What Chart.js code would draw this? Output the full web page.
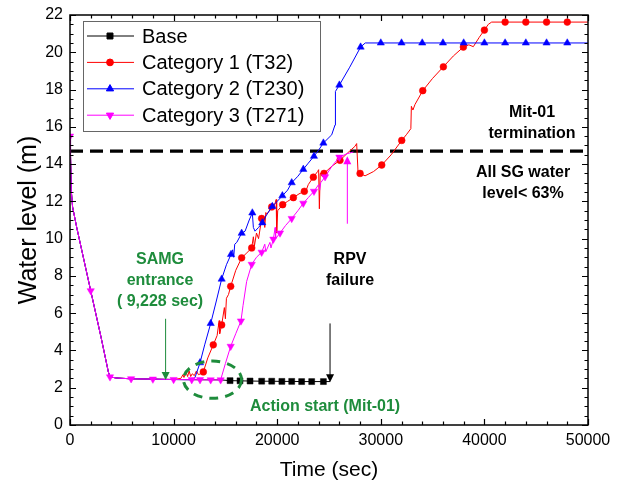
<!DOCTYPE html>
<html><head><meta charset="utf-8">
<script src="https://cdn.jsdelivr.net/npm/chart.js@4/dist/chart.umd.min.js"></script>
<style>html,body{margin:0;padding:0;background:#fff}canvas{display:block}</style>
</head><body>
<canvas id="c" width="626" height="489"></canvas>
<script>
// ---------- DATA ----------
const seriesNames = ['Base', 'Category 1 (T32)', 'Category 2 (T230)', 'Category 3 (T271)'];
const xTickValues = [0, 10000, 20000, 30000, 40000, 50000];
const yTickValues = [0, 2, 4, 6, 8, 10, 12, 14, 16, 18, 20, 22];

// shared early part (all cases identical)
const commonX = [0, 50, 120, 250, 650, 2000, 3000, 3700, 3860, 4500, 5900, 8000, 10000, 11750];
const commonY = [15.5, 14.5, 12.6, 11.7, 10.6, 7.2, 4.7, 2.85, 2.58, 2.52, 2.48, 2.46, 2.44, 2.43];

const baseX = [14540, 15450, 16410, 17380, 18500, 19470, 20450, 21400, 22360, 23330, 24460, 25100];
const baseY = [2.42, 2.38, 2.37, 2.36, 2.35, 2.35, 2.34, 2.34, 2.33, 2.33, 2.33, 2.33];
const baseMarkX = [15450, 16410, 17380, 18500, 19470, 20450, 21400, 22360, 23330, 24460];
const baseMarkY = [2.38, 2.37, 2.36, 2.35, 2.35, 2.34, 2.34, 2.33, 2.33, 2.33];

const cat1X = [10700, 10900, 11000, 11200, 11350, 11500, 11650, 11800, 12000, 12200, 12400, 12600, 12870, 13300, 13830, 14200, 14400, 14450, 14640, 14900, 15000, 15100, 15300, 15510, 16000, 16570, 17000, 17540, 17700, 17800, 18000, 18200, 18500, 18700, 18800, 18900, 19000, 19470, 19800, 19900, 19950, 20050, 20530, 21000, 21560, 22100, 22620, 22800, 23000, 23490, 23900, 24000, 24070, 24150, 24520, 25300, 26060, 26800, 27500, 27670, 27800, 28000, 28480, 29300, 30090, 31000, 32020, 32500, 32900, 32950, 33100, 33300, 34050, 35000, 36040, 37000, 37970, 38500, 38930, 39500, 40000, 40380, 40700, 50000];
const cat1Y = [2.5, 2.7, 2.55, 2.85, 2.6, 2.9, 2.6, 2.75, 2.65, 2.9, 2.7, 2.75, 2.85, 3.6, 4.3, 4.8, 5.6, 4.9, 5.37, 6.3, 5.7, 6.8, 7.0, 7.44, 8.3, 8.97, 9.2, 9.5, 10.1, 9.6, 10.3, 10.0, 11.08, 11.2, 10.6, 11.4, 11.3, 11.7, 11.9, 12.1, 10.3, 11.5, 11.82, 12.0, 12.2, 12.4, 12.54, 12.6, 12.9, 13.3, 13.6, 13.7, 11.6, 13.5, 13.5, 13.9, 14.2, 14.6, 14.95, 15.1, 13.6, 13.5, 13.37, 13.6, 13.95, 14.5, 15.27, 15.6, 15.9, 17.1, 16.9, 17.2, 17.94, 18.6, 19.22, 19.8, 20.28, 20.4, 20.3, 20.8, 21.19, 21.5, 21.62, 21.62];
const cat1MarkX = [12870, 13830, 14640, 15510, 16570, 17540, 18500, 19470, 20530, 21560, 22620, 23490, 24520, 26060, 28000, 30090, 32020, 34050, 36040, 37970, 40000, 42000, 44000, 46000, 48000];
const cat1MarkY = [2.85, 4.3, 5.37, 7.44, 8.97, 9.5, 11.08, 11.7, 11.82, 12.2, 12.54, 13.3, 13.5, 14.2, 13.5, 13.95, 15.27, 17.94, 19.22, 20.28, 21.19, 21.62, 21.62, 21.62, 21.62];

const cat2X = [12070, 12550, 13000, 13580, 14100, 14640, 15100, 15540, 15700, 15800, 15900, 16100, 16570, 16900, 17300, 17600, 17700, 17860, 18200, 18560, 19000, 19530, 20000, 20500, 21000, 21400, 22000, 22520, 23000, 23550, 24000, 24460, 25260, 25580, 25620, 26000, 27000, 28050, 28500, 50000];
const cat2Y = [2.55, 3.34, 4.3, 5.45, 6.6, 7.83, 8.6, 9.15, 9.4, 9.0, 9.7, 9.8, 10.29, 10.4, 11.0, 11.38, 10.6, 10.4, 10.6, 10.85, 11.3, 11.73, 12.0, 12.3, 12.6, 13.0, 13.35, 13.72, 14.05, 14.42, 14.75, 15.13, 15.57, 16.1, 17.9, 18.24, 19.2, 20.28, 20.5, 20.5];
const cat2MarkX = [12550, 13580, 14640, 15540, 16570, 17600, 18560, 19530, 20500, 21400, 22520, 23550, 24460, 26000, 28050, 30000, 32000, 34000, 36000, 38000, 40000, 42000, 44000, 46000, 48000];
const cat2MarkY = [3.34, 5.45, 7.83, 9.15, 10.29, 11.38, 10.85, 11.73, 12.3, 13.0, 13.72, 14.42, 15.13, 18.24, 20.28, 20.5, 20.5, 20.5, 20.5, 20.5, 20.5, 20.5, 20.5, 20.5, 20.5];

const cat3X = [12550, 13580, 14540, 15000, 15510, 16000, 16500, 16700, 17050, 17540, 18000, 18500, 18800, 18900, 19300, 19400, 19630, 19800, 19850, 20270, 20800, 21400, 22000, 22520, 23000, 23550, 24000, 24100, 24200, 24620, 25300, 26000, 26700, 27350];
const cat3Y = [2.43, 2.42, 2.42, 3.3, 4.22, 4.9, 5.58, 6.4, 7.7, 8.62, 9.0, 9.27, 9.7, 9.3, 9.8, 9.5, 9.97, 10.6, 10.0, 10.3, 10.7, 11.08, 11.5, 11.9, 12.2, 12.54, 12.9, 12.6, 13.0, 13.32, 13.9, 14.37, 14.55, 14.65];
const cat3MarkX = [0, 2000, 3860, 5900, 8000, 10000, 11750, 12550, 13580, 14540, 15510, 16500, 17540, 18500, 19630, 20270, 21400, 22520, 23550, 24620, 26000];
const cat3MarkY = [15.5, 7.2, 2.58, 2.48, 2.46, 2.44, 2.43, 2.43, 2.42, 2.42, 4.22, 5.58, 8.62, 9.27, 9.97, 10.3, 11.08, 11.9, 12.54, 13.32, 14.37];

const thresholdLevel = 14.7;   // dashed line
const samgTime = 9228;

// ---------- STYLE ----------
const FONT = '"Liberation Sans", Arial, Helvetica, sans-serif';
const GREEN = '#1e8c3c';
const COLORS = ['#000000', '#ff0000', '#0000ff', '#ff00ff'];
const STYLES = [
  {pointStyle: 'rect', rotation: 0, radius: 4.2},
  {pointStyle: 'circle', rotation: 0, radius: 3.4},
  {pointStyle: 'triangle', rotation: 0, radius: 4.2},
  {pointStyle: 'triangle', rotation: 180, radius: 4.2}
];

const pts = (xs, ys) => xs.map((x, i) => ({x, y: ys[i]}));
const withCommon = (endX, xs, ys) => {
  const cx = [], cy = [];
  commonX.forEach((x, i) => { if (x <= endX) { cx.push(x); cy.push(commonY[i]); } });
  return pts(cx.concat(xs), cy.concat(ys));
};

const seriesLines = [
  withCommon(11750, baseX, baseY),
  withCommon(10000, cat1X, cat1Y),
  withCommon(11750, cat2X, cat2Y),
  withCommon(11750, cat3X, cat3Y)
];
const seriesMarks = [
  pts(baseMarkX, baseMarkY),
  pts(cat1MarkX, cat1MarkY),
  pts(cat2MarkX, cat2MarkY),
  pts(cat3MarkX, cat3MarkY)
];

const datasets = [];
// draw order: magenta on top, then blue, red, black
const drawOrder = [4, 3, 2, 1];
for (let s = 0; s < 4; s++) {
  datasets.push({
    label: seriesNames[s], data: seriesLines[s], showLine: true,
    borderColor: COLORS[s], borderWidth: 1, pointRadius: 0, tension: 0,
    order: drawOrder[s] * 2
  });
  datasets.push({
    label: seriesNames[s] + ' markers', data: seriesMarks[s], showLine: false,
    pointStyle: STYLES[s].pointStyle, pointRotation: STYLES[s].rotation,
    pointRadius: STYLES[s].radius, pointBackgroundColor: COLORS[s],
    pointBorderColor: COLORS[s], pointBorderWidth: 0.5,
    order: drawOrder[s] * 2 - 1
  });
}
datasets.push({
  label: 'threshold', data: [{x: 0, y: thresholdLevel}, {x: 50000, y: thresholdLevel}],
  showLine: true, borderColor: '#000', borderWidth: 3.2, borderDash: [13, 7],
  pointRadius: 0, order: 20
});

// ---------- ANNOTATIONS ----------
const annText = [
  {x: 8690, y: 8.87, lines: ['SAMG', 'entrance', '( 9,228 sec)'], color: GREEN},
  {x: 27030, y: 8.87, lines: ['RPV', 'failure'], color: '#000'},
  {x: 44600, y: 16.78, lines: ['Mit-01', 'termination'], color: '#000'},
  {x: 43730, y: 13.56, lines: ['All SG water', 'level< 63%'], color: '#000'},
  {x: 24620, y: 1.0, lines: ['Action start (Mit-01)'], color: GREEN}
];
const annArrows = [
  {x: samgTime, y1: 5.7, y2: 2.42, color: GREEN},
  {x: 25100, y1: 5.45, y2: 2.3, color: '#000'},
  {x: 26770, y1: 10.8, y2: 14.42, color: '#ff00ff'}
];
const annEllipse = {x: 13755, y: 2.43, rx: 2800, ry: 1.0, color: GREEN};

const annotationPlugin = {
  id: 'notes',
  afterDatasetsDraw(chart) {
    const {ctx, scales: {x, y}} = chart;
    ctx.save();
    // ellipse
    const ex = x.getPixelForValue(annEllipse.x), ey = y.getPixelForValue(annEllipse.y);
    const erx = x.getPixelForValue(annEllipse.x + annEllipse.rx) - ex;
    const ery = ey - y.getPixelForValue(annEllipse.y + annEllipse.ry);
    ctx.beginPath();
    ctx.setLineDash([9, 7]);
    ctx.lineWidth = 3;
    ctx.strokeStyle = annEllipse.color;
    ctx.ellipse(ex, ey, erx, ery, 0, 0, Math.PI * 2);
    ctx.stroke();
    ctx.setLineDash([]);
    // arrows
    annArrows.forEach(a => {
      const px = x.getPixelForValue(a.x);
      const p1 = y.getPixelForValue(a.y1), p2 = y.getPixelForValue(a.y2);
      const dir = p2 > p1 ? 1 : -1;
      ctx.strokeStyle = a.color; ctx.fillStyle = a.color; ctx.lineWidth = 1;
      ctx.beginPath(); ctx.moveTo(px, p1); ctx.lineTo(px, p2 - dir * 6); ctx.stroke();
      ctx.beginPath();
      ctx.moveTo(px, p2); ctx.lineTo(px - 4, p2 - dir * 8); ctx.lineTo(px + 4, p2 - dir * 8);
      ctx.closePath(); ctx.fill();
    });
    // text
    ctx.font = 'bold 16px ' + FONT;
    ctx.textAlign = 'center';
    ctx.textBaseline = 'middle';
    annText.forEach(t => {
      const px = x.getPixelForValue(t.x), py = y.getPixelForValue(t.y);
      ctx.fillStyle = t.color;
      t.lines.forEach((l, i) => ctx.fillText(l, px, py + i * 21));
    });
    ctx.restore();
  }
};

const framePlugin = {
  id: 'frame',
  afterDraw(chart) {
    const {ctx, chartArea: a, scales: {x, y}} = chart;
    ctx.save();
    ctx.strokeStyle = '#000';
    ctx.lineWidth = 1.5;
    ctx.strokeRect(a.left, a.top, a.right - a.left, a.bottom - a.top);
    ctx.lineWidth = 1.2;
    ctx.beginPath();
    for (let v = 0; v <= 50000; v += 2000) {
      const px = Math.round(x.getPixelForValue(v)) + 0.5;
      const len = v % 10000 === 0 ? 6 : 3.5;
      ctx.moveTo(px, a.bottom); ctx.lineTo(px, a.bottom - len);
      ctx.moveTo(px, a.top); ctx.lineTo(px, a.top + len);
    }
    for (let v = 0; v <= 22.001; v += 0.5) {
      const py = Math.round(y.getPixelForValue(v)) + 0.5;
      const len = Math.abs(v % 2) < 1e-6 ? 6 : 3.5;
      ctx.moveTo(a.left, py); ctx.lineTo(a.left + len, py);
      ctx.moveTo(a.right, py); ctx.lineTo(a.right - len, py);
    }
    ctx.stroke();
    ctx.restore();
  }
};

const legendPlugin = {
  id: 'customLegend',
  afterDraw(chart) {
    const ctx = chart.ctx;
    ctx.save();
    ctx.fillStyle = '#fff';
    ctx.fillRect(83, 21, 237, 111);
    ctx.strokeStyle = '#666'; ctx.lineWidth = 1;
    ctx.strokeRect(83.5, 21.5, 237, 110);
    ctx.font = '20px ' + FONT;
    ctx.textBaseline = 'middle'; ctx.textAlign = 'left';
    seriesNames.forEach((name, i) => {
      const yy = 36 + i * 26.4;
      ctx.strokeStyle = COLORS[i]; ctx.fillStyle = COLORS[i]; ctx.lineWidth = 1;
      ctx.beginPath(); ctx.moveTo(87, yy); ctx.lineTo(134, yy); ctx.stroke();
      Chart.helpers.drawPoint(ctx, {pointStyle: STYLES[i].pointStyle, rotation: STYLES[i].rotation,
        radius: STYLES[i].radius, borderWidth: 0.5}, 110, yy);
      ctx.fillStyle = '#000';
      ctx.fillText(name, 142, yy + 1);
    });
    ctx.restore();
  }
};

new Chart(document.getElementById('c'), {
  type: 'scatter',
  data: {datasets},
  options: {
    responsive: false, animation: false, devicePixelRatio: 1,
    layout: {padding: {top: 8, right: 38, left: 0, bottom: 0}},
    plugins: {legend: {display: false}, tooltip: {enabled: false}},
    scales: {
      x: {
        type: 'linear', min: 0, max: 50000,
        afterBuildTicks: s => { s.ticks = xTickValues.map(v => ({value: v})); },
        afterFit: s => { s.height = 64; },
        grid: {display: false, drawTicks: false},
        border: {display: false},
        ticks: {color: '#000', font: {family: FONT, size: 16, lineHeight: 1}, padding: 8,
          maxRotation: 0, autoSkip: false, callback: v => String(v)},
        title: {display: true, text: 'Time (sec)', color: '#000',
          font: {family: FONT, size: 21}, padding: {top: 0, bottom: 6}}
      },
      y: {
        type: 'linear', min: 0, max: 22,
        afterBuildTicks: s => { s.ticks = yTickValues.map(v => ({value: v})); },
        afterFit: s => { s.width = 70; },
        grid: {display: false, drawTicks: false},
        border: {display: false},
        ticks: {color: '#000', font: {family: FONT, size: 16, lineHeight: 1}, padding: 7,
          autoSkip: false, callback: v => String(v)},
        title: {display: true, text: 'Water level (m)', color: '#000',
          font: {family: FONT, size: 25}, padding: {top: 14, bottom: 0}}
      }
    }
  },
  plugins: [annotationPlugin, framePlugin, legendPlugin]
});
</script>
</body></html>
